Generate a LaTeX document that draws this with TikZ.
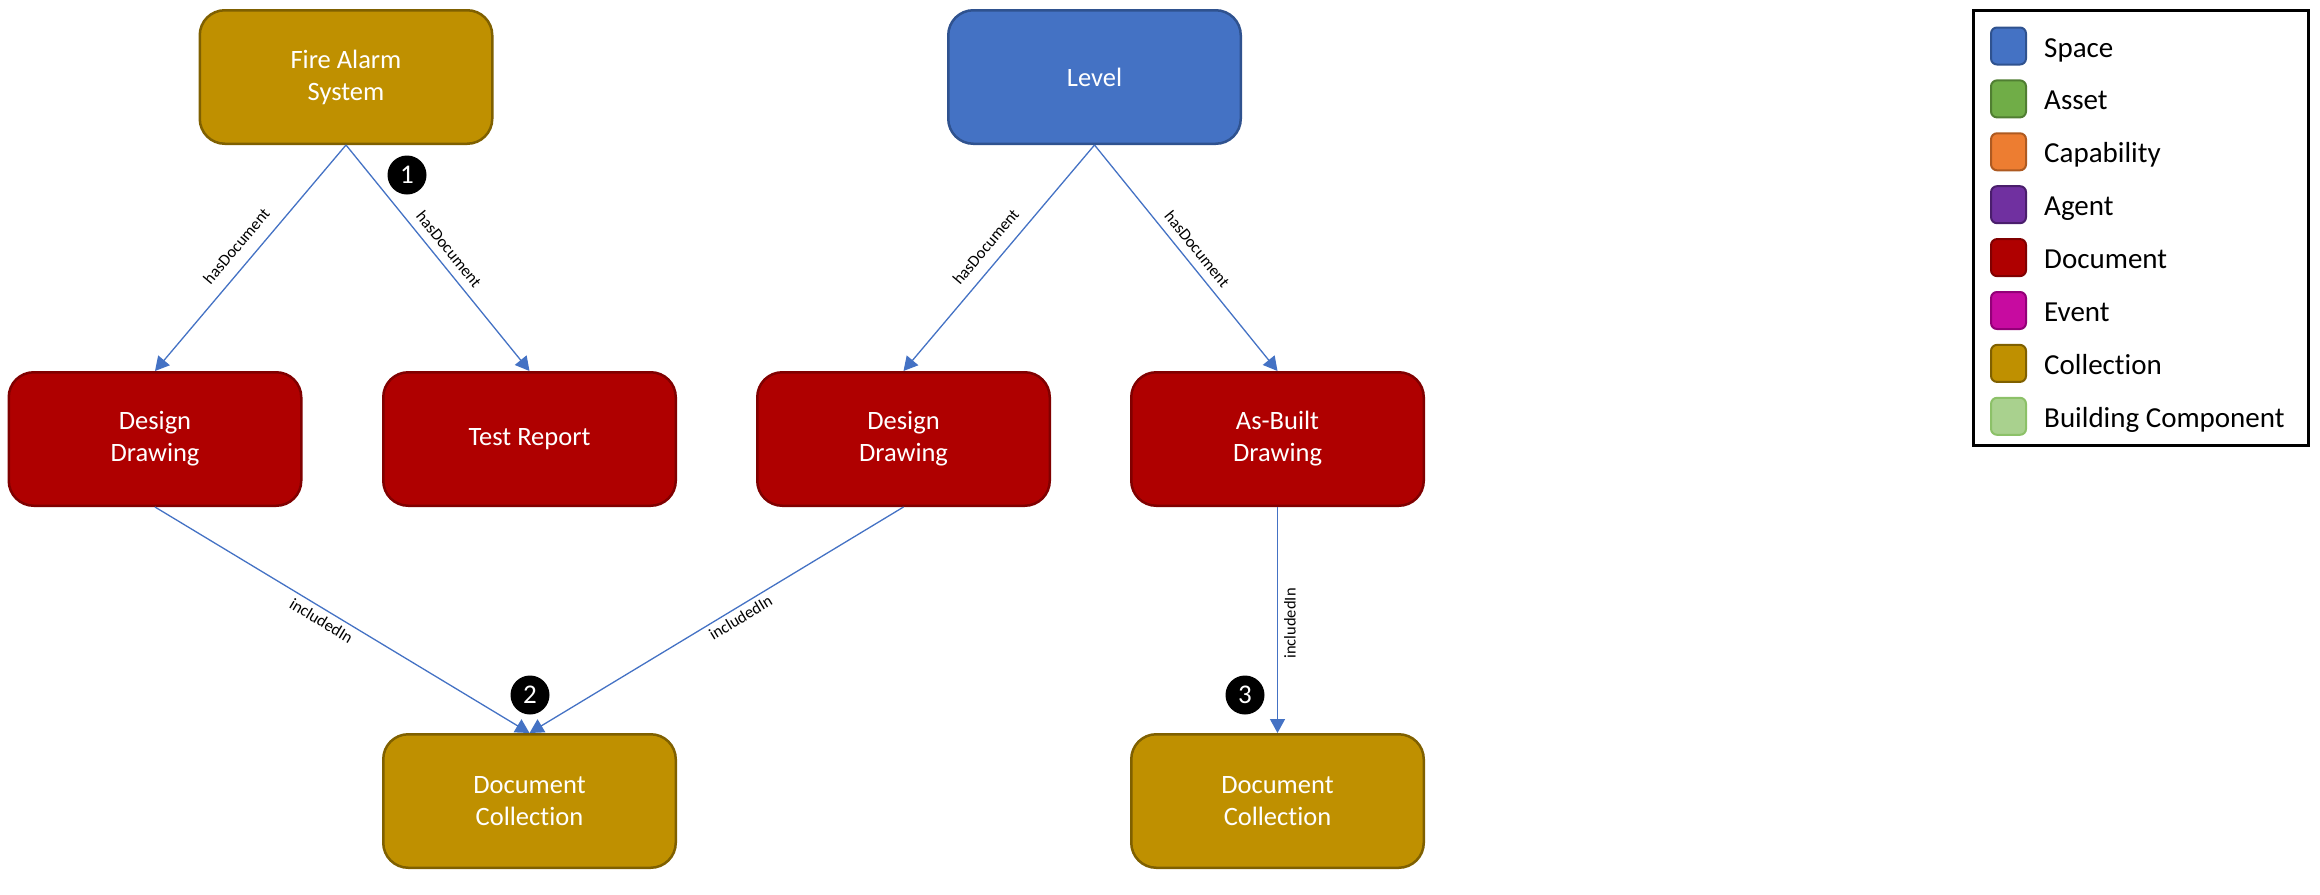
\documentclass[tikz,border=0pt]{standalone}
\usepackage{fontspec}
\setmainfont{Carlito}[Ligatures={NoCommon}]
\usetikzlibrary{arrows.meta}
\definecolor{spaceF}{HTML}{4472C4}\definecolor{spaceD}{HTML}{2F528F}
\definecolor{assetF}{HTML}{70AD47}\definecolor{assetD}{HTML}{507E32}
\definecolor{capF}{HTML}{ED7D31}\definecolor{capD}{HTML}{AE5A21}
\definecolor{agentF}{HTML}{7030A0}\definecolor{agentD}{HTML}{4A1E6C}
\definecolor{docF}{HTML}{AF0000}\definecolor{docD}{HTML}{800000}
\definecolor{eventF}{HTML}{C70BA0}\definecolor{eventD}{HTML}{930078}
\definecolor{collF}{HTML}{BF9000}\definecolor{collD}{HTML}{7F6000}
\definecolor{bcF}{HTML}{A9D18E}\definecolor{bcD}{HTML}{8CC168}
\definecolor{edgeC}{HTML}{4472C4}
\tikzset{
  box/.style={rectangle, rounded corners=25pt, line width=2.5pt, minimum width=292.5pt,
    minimum height=133.5pt, text=white, align=center, font=\fontsize{26.5}{32}\selectfont},
  spacebox/.style={box, fill=spaceF, draw=spaceD},
  docbox/.style={box, fill=docF, draw=docD},
  collbox/.style={box, fill=collF, draw=collD},
  edge/.style={draw=edgeC, line width=1.3pt, -{Triangle[length=14pt,width=15pt]}},
  elab/.style={font=\fontsize{16.5}{18}\selectfont, text=black, inner sep=3pt},
  num/.style={circle, fill=black, text=white, minimum size=39pt, inner sep=0pt,
    font=\fontsize{27}{30}\selectfont},
  swatch/.style={rectangle, rounded corners=6pt, line width=2pt, minimum width=35pt,
    minimum height=37pt, inner sep=0pt},
  ltext/.style={anchor=base west, font=\fontsize{29}{32}\selectfont, inner sep=0pt}
}
\begin{document}
\begin{tikzpicture}[x=1pt,y=-1pt]
\useasboundingbox (0,0) rectangle (2320,894);
% nodes
\node[collbox] (fa) at (346,77) {Fire Alarm\\System};
\node[spacebox] (lvl) at (1094.5,77) {Level};
\node[docbox] (dd1) at (155,439) {Design\\Drawing};
\node[docbox] (tr) at (529.5,439) {Test Report};
\node[docbox] (dd2) at (903.5,439) {Design\\Drawing};
\node[docbox] (ab) at (1277.5,439) {As-Built\\Drawing};
\node[collbox] (c1) at (529.5,801) {Document\\Collection};
\node[collbox] (c2) at (1277.5,801) {Document\\Collection};
% edges
\draw[edge] (fa.south) -- node[elab, sloped, above=9pt] {hasDocument} (dd1.north);
\draw[edge] (fa.south) -- node[elab, sloped, above=5pt] {hasDocument} (tr.north);
\draw[edge] (lvl.south) -- node[elab, sloped, above=8pt] {hasDocument} (dd2.north);
\draw[edge] (lvl.south) -- node[elab, sloped, above=5pt] {hasDocument} (ab.north);
\draw[edge] (dd1.south) -- node[elab, sloped, below=2pt, pos=0.46] {includedIn} (c1.north);
\draw[edge] (dd2.south) -- node[elab, sloped, below=1pt, pos=0.45] {includedIn} (c1.north);
\draw[edge] (ab.south) -- node[elab, rotate=90, anchor=north, inner sep=6pt, pos=0.515] {includedIn} (c2.north);
% numbered markers
\node[num] (n1) at (407,175) {1};
\node[num] (n2) at (530,695) {2};
\node[num] (n3) at (1245,695) {3};
% legend
\node[draw=black, line width=3pt, rectangle, minimum width=335pt, minimum height=435pt,
  inner sep=0pt] (legend) at (2141,228) {};
\foreach \i/\f/\d/\t in {0/spaceF/spaceD/Space, 1/assetF/assetD/Asset, 2/capF/capD/Capability,
  3/agentF/agentD/Agent, 4/docF/docD/Document, 5/eventF/eventD/Event,
  6/collF/collD/Collection, 7/bcF/bcD/Building Component}{
  \node[swatch, fill=\f, draw=\d] (sw\i) at (2008.5, 46+52.9*\i) {};
  \node[ltext] (lt\i) at (2044, 57+52.9*\i) {\t};
}
\end{tikzpicture}
\end{document}
